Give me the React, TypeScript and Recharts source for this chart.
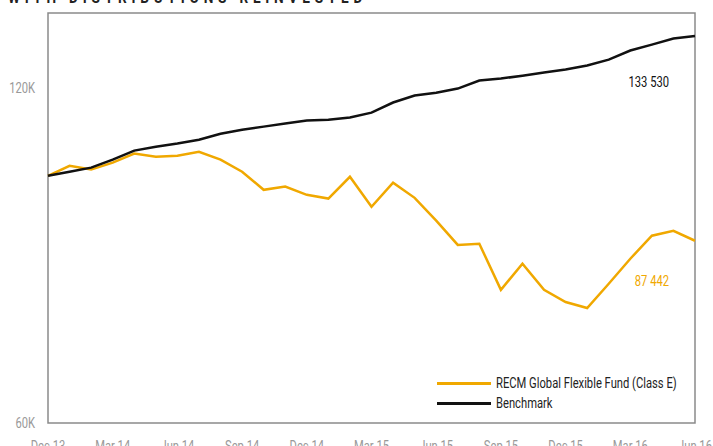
import { LineChart, Line, XAxis, YAxis, ReferenceArea, Legend, LabelList } from 'recharts'

const months = [
  'Dec 13', 'Jan 14', 'Feb 14', 'Mar 14', 'Apr 14', 'May 14', 'Jun 14', 'Jul 14', 'Aug 14', 'Sep 14', 'Oct 14', 'Nov 14',
  'Dec 14', 'Jan 15', 'Feb 15', 'Mar 15', 'Apr 15', 'May 15', 'Jun 15', 'Jul 15', 'Aug 15', 'Sep 15', 'Oct 15', 'Nov 15',
  'Dec 15', 'Jan 16', 'Feb 16', 'Mar 16', 'Apr 16', 'May 16', 'Jun 16',
]
const fund = [
  100000, 102100, 101300, 102750, 104700, 104000, 104250, 105100, 103400, 100850, 97150, 97800,
  96150, 95400, 99800, 93800, 98600, 95550, 91150, 86700, 86900, 79000, 83400, 79000,
  77050, 76100, 80000, 84250, 88350, 89250, 87442,
]
const benchmark = [
  100000, 100850, 101700, 103400, 105350, 106200, 106900, 107750, 109100, 110000, 110700, 111400,
  112100, 112300, 112800, 113950, 116350, 118050, 118750, 119750, 121750, 122250, 123000, 123800,
  124550, 125600, 127150, 129550, 131150, 132800, 133530,
]
const xTicks = ['Dec 13', 'Mar 14', 'Jun 14', 'Sep 14', 'Dec 14', 'Mar 15', 'Jun 15', 'Sep 15', 'Dec 15', 'Mar 16', 'Jun 16']
const yTicks = [60000, 120000]

const ORANGE = '#f0a800'
const FONT = 'Roboto, sans-serif'
const SQUEEZE = 0.8

const data = months.map((m, i) => ({ month: m, fund: fund[i], benchmark: benchmark[i] }))

const fmt = (v: number) => String(v).replace(/\B(?=(\d{3})+(?!\d))/g, ' ')

// condensed-looking text: Roboto squeezed horizontally
function Narrow({ x, y, anchor, color, size, children }: any) {
  return (
    <text transform={`translate(${x},${y}) scale(${SQUEEZE},1)`} textAnchor={anchor} dominantBaseline="central"
      fill={color} fontSize={size} fontFamily={FONT}>
      {children}
    </text>
  )
}

const XTick = (p: any) => <Narrow x={p.x} y={p.y + 7} anchor="middle" color="#999" size={14}>{p.payload.value}</Narrow>
const YTick = (p: any) => <Narrow x={p.x} y={p.y} anchor="end" color="#999" size={14}>{`${p.payload.value / 1000}K`}</Narrow>

function endLabel(color: string, dy: number) {
  return (props: any) => {
    if (props.index !== data.length - 1) return null
    return <Narrow x={props.x - 26} y={props.y + dy} anchor="end" color={color} size={14}>{fmt(props.value)}</Narrow>
  }
}

function LegendBox() {
  const items = [
    { name: 'RECM Global Flexible Fund (Class E)', color: ORANGE },
    { name: 'Benchmark', color: '#111' },
  ]
  return (
    <div style={{ fontFamily: FONT, fontSize: 14, color: '#222' }}>
      {items.map(it => (
        <div key={it.name} style={{ display: 'flex', alignItems: 'center', height: 20 }}>
          <span style={{ width: 54, height: 3, background: it.color, marginRight: 5, flex: 'none' }} />
          <span style={{ display: 'inline-block', transform: `scaleX(${SQUEEZE})`, transformOrigin: 'left center', whiteSpace: 'nowrap' }}>
            {it.name}
          </span>
        </div>
      ))}
    </div>
  )
}

export default function App() {
  return (
    <div style={{ position: 'absolute', left: 0, top: 0, width: 713, height: 446, overflow: 'hidden', background: '#fff' }}>
      <div style={{
        position: 'absolute', left: 8, top: -11, fontFamily: FONT, fontWeight: 'bold', fontSize: 17,
        letterSpacing: 6, color: '#222', lineHeight: '17px', whiteSpace: 'nowrap',
        transform: `scaleX(${SQUEEZE})`, transformOrigin: 'left top',
      }}>
        WITH DISTRIBUTIONS REINVESTED
      </div>
      <LineChart width={713} height={446} data={data} margin={{ top: 13, right: 18, bottom: 0, left: 0 }}>
        <ReferenceArea x1="Dec 13" x2="Jun 16" y1={60000} y2={140000} fill="none" stroke="#8a8a8a" strokeWidth={1.5} ifOverflow="visible" />
        <XAxis dataKey="month" ticks={xTicks} interval={0} height={23} axisLine={false} tickLine={false}
          tickSize={6} tickMargin={10} tick={<XTick />} />
        <YAxis scale="log" domain={[60000, 140000]} ticks={yTicks} allowDataOverflow width={48}
          axisLine={false} tickLine={false} tickSize={6} tickMargin={7} tick={<YTick />} />
        <Legend content={<LegendBox />} layout="vertical" verticalAlign="middle" align="center"
          wrapperStyle={{ left: 437, top: 373, width: 270 }} />
        <Line dataKey="fund" name="RECM Global Flexible Fund (Class E)" stroke={ORANGE} strokeWidth={2.5}
          dot={false} isAnimationActive={false}>
          <LabelList dataKey="fund" content={endLabel(ORANGE, 40)} />
        </Line>
        <Line dataKey="benchmark" name="Benchmark" stroke="#111" strokeWidth={2.5} dot={false} isAnimationActive={false}>
          <LabelList dataKey="benchmark" content={endLabel('#111', 46)} />
        </Line>
      </LineChart>
    </div>
  )
}
